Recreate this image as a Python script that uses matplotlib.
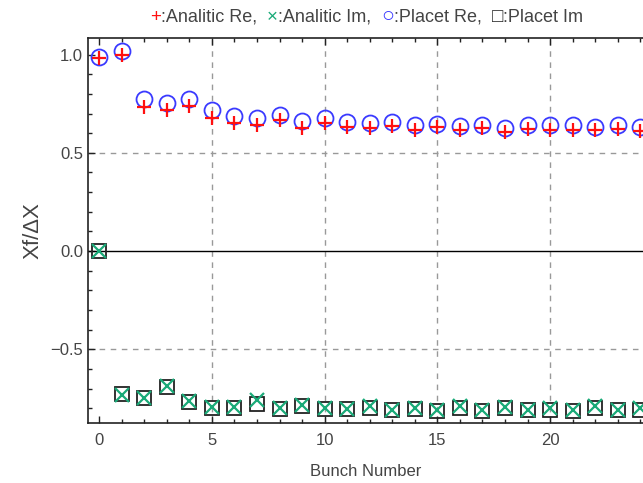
import matplotlib
matplotlib.use("Agg")
import matplotlib.pyplot as plt
from matplotlib.ticker import MultipleLocator, FixedLocator
from matplotlib.offsetbox import TextArea, HPacker, AnchoredOffsetbox

plt.rcParams['font.family'] = ['Liberation Sans', 'DejaVu Sans']

bunch = list(range(25))
analytic_re = [0.985, 1.0, 0.736, 0.716, 0.738, 0.679, 0.653, 0.643, 0.668, 0.628, 0.652, 0.632,
               0.626, 0.635, 0.618, 0.632, 0.614, 0.628, 0.606, 0.619, 0.614, 0.614, 0.614, 0.624, 0.609]
placet_re = [0.99, 1.017, 0.772, 0.755, 0.775, 0.716, 0.689, 0.675, 0.695, 0.662, 0.679, 0.655,
             0.653, 0.655, 0.643, 0.648, 0.635, 0.643, 0.628, 0.643, 0.640, 0.640, 0.632, 0.640, 0.632]
analytic_im = [0.0, -0.735, -0.75, -0.685, -0.761, -0.794, -0.794, -0.756, -0.799, -0.782, -0.80, -0.804,
               -0.79, -0.807, -0.80, -0.81, -0.79, -0.81, -0.792, -0.807, -0.80, -0.81, -0.79, -0.807, -0.80]
placet_im = [0.0, -0.728, -0.748, -0.692, -0.770, -0.799, -0.799, -0.777, -0.804, -0.787, -0.804, -0.804,
             -0.80, -0.81, -0.804, -0.815, -0.80, -0.813, -0.80, -0.81, -0.807, -0.815, -0.80, -0.81, -0.807]

red = '#ff1010'
green = '#1aaa78'
blue = '#3a3aff'
dark = '#222222'
txt = '#444444'

fig = plt.figure(figsize=(6.43, 4.83), dpi=100)
ax = fig.add_axes([0.137, 0.124, 0.863, 0.797])

ax.plot(bunch, placet_re, 'o', ms=11.5, mfc='none', mec=blue, mew=1.3, ls='none', zorder=3)
ax.plot(bunch, placet_im, 's', ms=10, mfc='none', mec=dark, mew=1.3, ls='none', zorder=3)
ax.plot(bunch, analytic_re, '+', ms=10.5, mec=red, mew=1.6, ls='none', zorder=4)
ax.plot(bunch, analytic_im, 'x', ms=10, mec=green, mew=1.6, ls='none', zorder=4)

ax.set_xlim(-0.49, 24.12)
ax.set_ylim(-0.876, 1.084)

for xv in [5, 10, 15, 20]:
    ax.axvline(xv, color='#999999', ls=(0, (4, 4)), lw=1.0, zorder=1)
for yv in [0.5, -0.5]:
    ax.axhline(yv, color='#999999', ls=(0, (4, 4)), lw=1.0, zorder=1)
ax.axhline(0, color='black', lw=1.0, zorder=2)

ax.spines['right'].set_visible(False)
for s in ['left', 'top', 'bottom']:
    ax.spines[s].set_color('#222222')
    ax.spines[s].set_linewidth(1.2)

ax.xaxis.set_major_locator(MultipleLocator(5))
ax.xaxis.set_minor_locator(MultipleLocator(1))
ax.yaxis.set_major_locator(FixedLocator([-0.5, 0.0, 0.5, 1.0]))
ax.yaxis.set_minor_locator(MultipleLocator(0.1))
ax.yaxis.set_major_formatter(plt.FuncFormatter(lambda v, p: f"{v:.1f}".replace('-', '\u2212')))
ax.tick_params(which='both', direction='in', top=True, right=False, labelsize=12,
               labelcolor=txt, color='#222222', width=1.0)
ax.tick_params(which='major', length=5)
ax.tick_params(which='minor', length=3)
ax.tick_params(axis='x', pad=7)

ax.set_xlabel('Bunch Number', fontsize=12, color=txt, labelpad=12)
ax.set_ylabel('Xf/\u0394X', fontsize=16, color=txt, labelpad=5)

parts = [('+', red, 13.5), (':Analitic Re,  ', txt, 13), ('\u00d7', green, 13.5), (':Analitic Im,  ', txt, 13),
         ('\u25cb', blue, 15.5), (':Placet Re,  ', txt, 13), ('\u25a1', dark, 13.5), (':Placet Im', txt, 13)]
areas = [TextArea(t, textprops=dict(color=c, fontsize=f)) for t, c, f in parts]
box = HPacker(children=areas, align='baseline', pad=0, sep=0)
anch = AnchoredOffsetbox(loc='center', child=box, pad=0, frameon=False,
                         bbox_to_anchor=(0.57, 0.966), bbox_transform=fig.transFigure, borderpad=0)
fig.add_artist(anch)

fig.savefig('out.png', dpi=100)
